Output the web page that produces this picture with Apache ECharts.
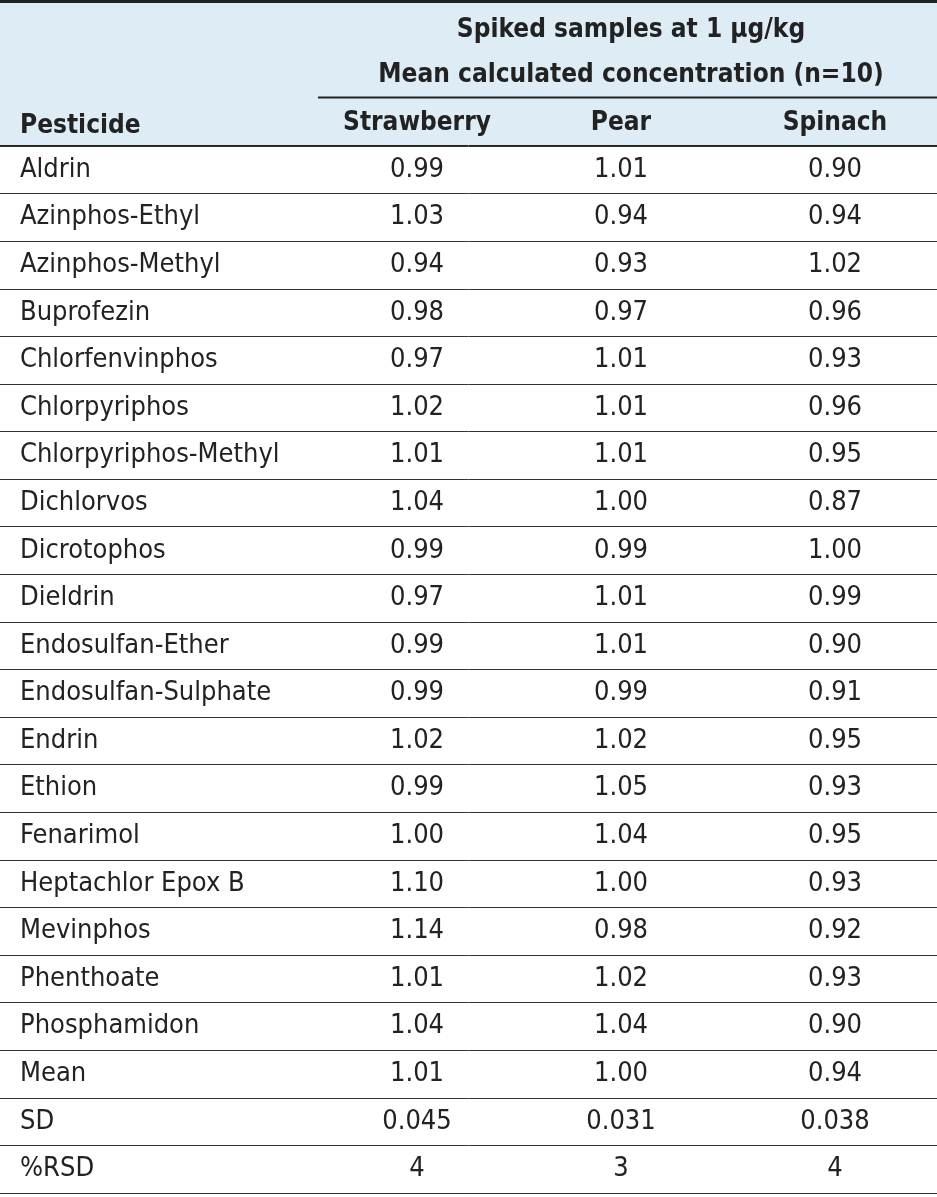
<!DOCTYPE html>
<html>
<head>
<meta charset="utf-8">
<script src="https://cdn.jsdelivr.net/npm/echarts@6/dist/echarts.min.js"></script>
<style>
  html, body { margin: 0; padding: 0; background: #fff; }
  #chart { width: 937px; height: 1197px; }
</style>
</head>
<body>
<div id="chart"></div>
<script>
const pesticides = ["Aldrin", "Azinphos-Ethyl", "Azinphos-Methyl", "Buprofezin", "Chlorfenvinphos",
  "Chlorpyriphos", "Chlorpyriphos-Methyl", "Dichlorvos", "Dicrotophos", "Dieldrin", "Endosulfan-Ether",
  "Endosulfan-Sulphate", "Endrin", "Ethion", "Fenarimol", "Heptachlor Epox B", "Mevinphos",
  "Phenthoate", "Phosphamidon", "Mean", "SD", "%RSD"];
const strawberry = ["0.99", "1.03", "0.94", "0.98", "0.97", "1.02", "1.01", "1.04", "0.99", "0.97", "0.99",
  "0.99", "1.02", "0.99", "1.00", "1.10", "1.14", "1.01", "1.04", "1.01", "0.045", "4"];
const pear = ["1.01", "0.94", "0.93", "0.97", "1.01", "1.01", "1.01", "1.00", "0.99", "1.01", "1.01",
  "0.99", "1.02", "1.05", "1.04", "1.00", "0.98", "1.02", "1.04", "1.00", "0.031", "3"];
const spinach = ["0.90", "0.94", "1.02", "0.96", "0.93", "0.96", "0.95", "0.87", "1.00", "0.99", "0.90",
  "0.91", "0.95", "0.93", "0.95", "0.93", "0.92", "0.93", "0.90", "0.94", "0.038", "4"];
const columns = ["Strawberry", "Pear", "Spinach"];
const headerLine1 = "Spiked samples at 1 µg/kg";
const headerLine2 = "Mean calculated concentration (n=10)";

// x positions of the columns (value axis spans 0..937 px)
const nameX = 20;
const colX = [417, 621, 835];
const font = '"Liberation Sans Narrow", "DejaVu Sans Condensed", sans-serif';

const cells = [];
pesticides.forEach((p) => cells.push([nameX, p, p, 'left']));
[strawberry, pear, spinach].forEach((vals, c) => {
  vals.forEach((v, r) => cells.push([colX[c], pesticides[r], v, 'center']));
});

const chart = echarts.init(document.getElementById('chart'));
chart.setOption({
  animation: false,
  grid: { left: 0, right: 0, top: 146, bottom: 4, containLabel: false, outerBoundsMode: 'none' },
  xAxis: { type: 'value', min: 0, max: 937, show: false },
  yAxis: {
    type: 'category', inverse: true, data: pesticides,
    axisLine: { show: false }, axisTick: { show: false }, axisLabel: { show: false },
    splitLine: { show: true, lineStyle: { color: '#333', width: 1 } }
  },
  graphic: [
    { type: 'rect', shape: { x: 0, y: 0, width: 937, height: 146 }, style: { fill: '#deecf5' }, z: -1 },
    { type: 'line', shape: { x1: 0, y1: 1.5, x2: 937, y2: 1.5 }, style: { stroke: '#222', lineWidth: 3 } },
    { type: 'line', shape: { x1: 318, y1: 97.5, x2: 937, y2: 97.5 }, style: { stroke: '#222', lineWidth: 2 } },
    { type: 'line', shape: { x1: 0, y1: 145.5, x2: 937, y2: 145.5 }, style: { stroke: '#222', lineWidth: 1 } },
    { type: 'line', shape: { x1: 0, y1: 1193.5, x2: 937, y2: 1193.5 }, style: { stroke: '#222', lineWidth: 1 } },
    { type: 'text', x: 631, y: 30, style: { text: headerLine1, font: 'bold 26px ' + font, fill: '#222', align: 'center', verticalAlign: 'middle' } },
    { type: 'text', x: 631, y: 75, style: { text: headerLine2, font: 'bold 26px ' + font, fill: '#222', align: 'center', verticalAlign: 'middle' } },
    { type: 'text', x: 20, y: 126, style: { text: 'Pesticide', font: 'bold 26px ' + font, fill: '#222', align: 'left', verticalAlign: 'middle' } }
  ].concat(columns.map((c, i) => ({
    type: 'text', x: colX[i], y: 123,
    style: { text: c, font: 'bold 26px ' + font, fill: '#222', align: 'center', verticalAlign: 'middle' }
  }))),
  series: [{
    type: 'custom',
    data: cells,
    renderItem: (params, api) => {
      const p = api.coord([api.value(0), api.value(1)]);
      const cell = cells[params.dataIndex];
      return {
        type: 'text', x: p[0], y: p[1],
        style: { text: cell[2], font: '27px ' + font, fill: '#222', align: cell[3], verticalAlign: 'middle' }
      };
    }
  }]
});
</script>
</body>
</html>
